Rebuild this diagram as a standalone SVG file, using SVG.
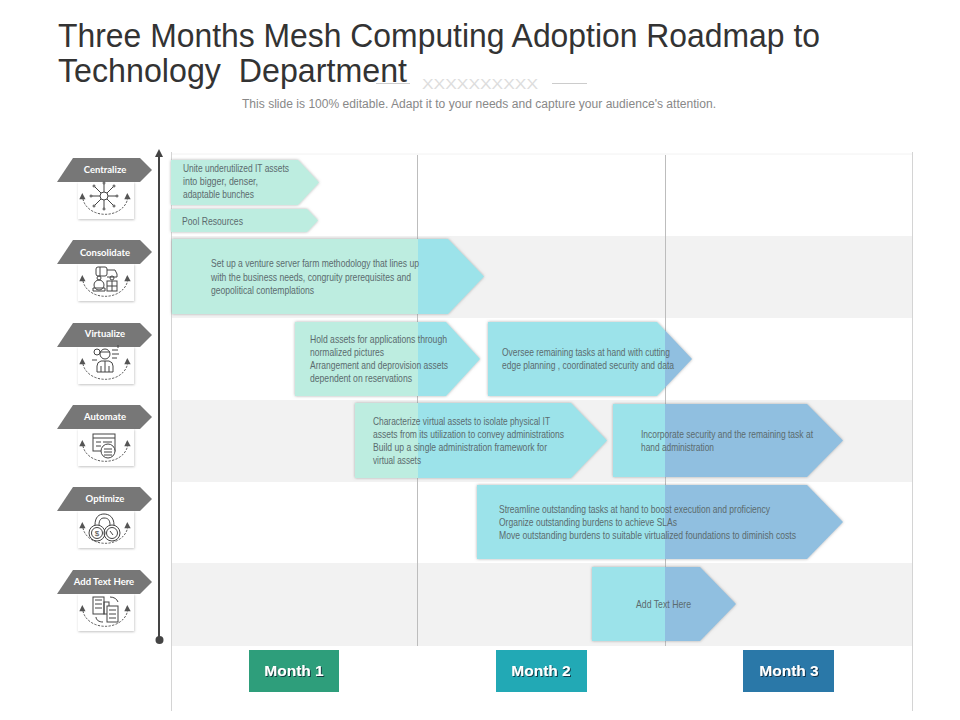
<svg xmlns="http://www.w3.org/2000/svg" width="960" height="720" viewBox="0 0 960 720">
<style>
text{font-family:"Liberation Sans",Arial,sans-serif}
.t{font-size:10.3px;fill:#5b6b6e}
.tag{font-size:9.5px;font-weight:bold;fill:#fff;text-anchor:middle;font-family:Lato,"Liberation Sans",sans-serif}
.m{font-size:15.500px;font-weight:bold;fill:#fff;text-anchor:middle;filter:url(#ts)}
.ic{fill:none;stroke:#444;stroke-width:1}
.arc{fill:none;stroke:#444;stroke-width:.9;stroke-dasharray:2.2 1.4}
.ah{fill:#555}
.tagb{fill:#777}
.card{fill:#fff;filter:url(#cs)}
.bar{fill:url(#g);filter:url(#as)}
.grid{stroke:#bdbdbd;stroke-width:1}
.edge{stroke:#d4d4d4;stroke-width:1}
</style>
<defs>
<linearGradient id="g" gradientUnits="userSpaceOnUse" x1="0" y1="0" x2="960" y2="0">
<stop offset="0.4349" stop-color="#BDEDE0"/><stop offset="0.4349" stop-color="#9CE3EA"/>
<stop offset="0.6927" stop-color="#9CE3EA"/><stop offset="0.6927" stop-color="#90BFE0"/>
</linearGradient>
<filter id="as" x="-5%" y="-10%" width="110%" height="120%"><feDropShadow dx="0" dy="0" stdDeviation="1.4" flood-color="#777" flood-opacity=".6"/></filter>
<filter id="cs" x="-10%" y="-10%" width="120%" height="120%"><feDropShadow dx="0.5" dy="1" stdDeviation="1" flood-color="#888" flood-opacity=".5"/></filter>
<filter id="ts" x="-10%" y="-20%" width="120%" height="150%"><feDropShadow dx="1" dy="1" stdDeviation=".4" flood-color="#123" flood-opacity=".8"/></filter>
<g id="frame">
<rect class="card" x="78" y="0" width="56" height="37"/>
<path class="arc" d="M83 17 A22.500 18 0 0 0 127.500 17"/>
<polygon class="ah" points="79.300,17.300 85.500,17.300 82.300,11"/>
<polygon class="ah" points="124.300,17.300 130.700,17.300 127.300,11"/>
<polygon class="tagb" points="57,0 73,-24 140,-24 152,-12 140,0"/>
</g>
</defs>
<rect width="960" height="720" fill="#fff"/>
<g id="title">
<text x="58" y="47" font-size="32.500" fill="#333" textLength="762" lengthAdjust="spacingAndGlyphs">Three Months Mesh Computing Adoption Roadmap to</text>
<text x="58" y="82" font-size="32.500" fill="#333" xml:space="preserve" textLength="349" lengthAdjust="spacingAndGlyphs">Technology  Department</text>
<text x="422" y="88.500" font-size="14" fill="#ddd" textLength="116" lengthAdjust="spacingAndGlyphs">XXXXXXXXXX</text>
<line x1="376" y1="83.500" x2="410" y2="83.500" stroke="#ccc"/>
<line x1="552" y1="83.500" x2="587" y2="83.500" stroke="#ccc"/>
<text x="242" y="108" font-size="12" fill="#888" textLength="474" lengthAdjust="spacingAndGlyphs">This slide is 100% editable. Adapt it to your needs and capture your audience's attention.</text>
</g>
<g id="bands" fill="#F2F2F2">
<rect x="171" y="236" width="742" height="82"/>
<rect x="171" y="400" width="742" height="82"/>
<rect x="171" y="563" width="742" height="83"/>
<line x1="171" y1="154" x2="913" y2="154" stroke="#f2f2f2"/>
</g>
<g id="grid">
<line class="edge" x1="171.500" y1="152" x2="171.500" y2="711"/>
<line class="grid" x1="417.500" y1="155" x2="417.500" y2="646"/>
<line class="grid" x1="665.500" y1="155" x2="665.500" y2="646"/>
<line class="edge" x1="912.500" y1="152" x2="912.500" y2="711"/>
</g>
<g id="connectors">
<line x1="159" y1="155" x2="159" y2="640" stroke="#444" stroke-width="2"/>
<polygon points="159,149 155,157 163,157" fill="#444"/>
<circle cx="159.500" cy="640" r="4" fill="#444"/>
</g>
<g id="bar1"><polygon class="bar" points="171,160 298,160 319,182.500 298,205 171,205"/>
<text class="t" x="183" y="172" textLength="106" lengthAdjust="spacingAndGlyphs">Unite underutilized IT assets</text>
<text class="t" x="183" y="185" textLength="75" lengthAdjust="spacingAndGlyphs">into bigger, denser,</text>
<text class="t" x="183" y="198" textLength="71" lengthAdjust="spacingAndGlyphs">adaptable bunches</text></g>
<g id="bar2"><polygon class="bar" points="171,209 307,209 318,220.500 307,232 171,232"/>
<text class="t" x="182" y="225" textLength="61" lengthAdjust="spacingAndGlyphs">Pool Resources</text></g>
<g id="bar3"><polygon class="bar" points="172,239 448,239 484,276.500 448,314 172,314"/>
<text class="t" x="211" y="267" textLength="208" lengthAdjust="spacingAndGlyphs">Set up a venture server farm methodology that lines up</text>
<text class="t" x="211" y="281" textLength="200" lengthAdjust="spacingAndGlyphs">with the business needs, congruity prerequisites and</text>
<text class="t" x="211" y="294" textLength="103" lengthAdjust="spacingAndGlyphs">geopolitical contemplations</text></g>
<g id="bar4"><polygon class="bar" points="295,322 446,322 480,359 446,396 295,396"/>
<text class="t" x="310" y="343" textLength="137" lengthAdjust="spacingAndGlyphs">Hold assets for applications through</text>
<text class="t" x="310" y="356" textLength="74" lengthAdjust="spacingAndGlyphs">normalized pictures</text>
<text class="t" x="310" y="369" textLength="138" lengthAdjust="spacingAndGlyphs">Arrangement and deprovision assets</text>
<text class="t" x="310" y="382" textLength="102" lengthAdjust="spacingAndGlyphs">dependent on reservations</text></g>
<g id="bar5"><polygon class="bar" points="488,322 657,322 692,359 657,396 488,396"/>
<text class="t" x="502" y="356" textLength="168" lengthAdjust="spacingAndGlyphs">Oversee remaining tasks at hand with cutting</text>
<text class="t" x="502" y="369" textLength="172" lengthAdjust="spacingAndGlyphs">edge planning , coordinated security and data</text></g>
<g id="bar6"><polygon class="bar" points="355,403 571,403 607,440.500 571,478 355,478"/>
<text class="t" x="373" y="425" textLength="177" lengthAdjust="spacingAndGlyphs">Characterize virtual assets to isolate physical IT</text>
<text class="t" x="373" y="438" textLength="191" lengthAdjust="spacingAndGlyphs">assets from its utilization to convey administrations</text>
<text class="t" x="373" y="451" textLength="174" lengthAdjust="spacingAndGlyphs">Build up a single administration framework for</text>
<text class="t" x="373" y="464" textLength="48" lengthAdjust="spacingAndGlyphs">virtual assets</text></g>
<g id="bar7"><polygon class="bar" points="613,404 807,404 843,440.500 807,477 613,477"/>
<text class="t" x="641" y="438" textLength="172" lengthAdjust="spacingAndGlyphs">Incorporate security and the remaining task at</text>
<text class="t" x="641" y="451" textLength="73" lengthAdjust="spacingAndGlyphs">hand administration</text></g>
<g id="bar8"><polygon class="bar" points="477,485 807,485 843,522 807,559 477,559"/>
<text class="t" x="499" y="513" textLength="271" lengthAdjust="spacingAndGlyphs">Streamline outstanding tasks at hand to boost execution and proficiency</text>
<text class="t" x="499" y="526" textLength="178" lengthAdjust="spacingAndGlyphs">Organize outstanding burdens to achieve SLAs</text>
<text class="t" x="499" y="539" textLength="297" lengthAdjust="spacingAndGlyphs">Move outstanding burdens to suitable virtualized foundations to diminish costs</text></g>
<g id="bar9"><polygon class="bar" points="592,567 700,567 736,604 700,641 592,641"/>
<text class="t" x="636" y="608" textLength="55" lengthAdjust="spacingAndGlyphs">Add Text Here</text></g>
<g id="centralize"><use href="#frame" y="182"/>
<text class="tag" x="105" y="173">Centralize</text>
<g class="ic"><circle cx="104" cy="196" r="4"/><path d="M104 192V184M104 200V208M100 196H92M108 196H116M101 193L95 187M107 199L113 205M107 193L113 187M101 199L95 205"/><circle cx="104" cy="183" r="1"/><circle cx="104" cy="209" r="1"/><circle cx="91" cy="196" r="1"/><circle cx="117" cy="196" r="1"/><circle cx="94" cy="186" r="1"/><circle cx="114" cy="186" r="1"/><circle cx="94" cy="206" r="1"/><circle cx="114" cy="206" r="1"/></g></g>
<g id="consolidate"><use href="#frame" y="264"/>
<text class="tag" x="105" y="256">Consolidate</text>
<g class="ic"><rect x="96" y="267" width="11" height="9" rx="2"/><path d="M100 267V276M107 270H115L117 274V277H107"/><circle cx="99" cy="278" r="2"/><circle cx="112" cy="278" r="2"/><circle cx="99" cy="285" r="5"/><path d="M93 291H105V288H93Z"/><rect x="107" y="281" width="10" height="10"/><path d="M112 281V291M107 286H117"/></g></g>
<g id="virtualize"><use href="#frame" y="347"/>
<text class="tag" x="105" y="337">Virtualize</text>
<g class="ic"><circle cx="105" cy="354" r="5"/><path d="M100 352H110M97 372V366Q97 362 101 361H109Q113 362 113 366V372H97M105 361V372M101 366V372M109 366V372"/><circle cx="97" cy="352" r="3"/><path d="M112 350H118M112 354H119M112 358H117M92 360H97M118 348V345"/></g></g>
<g id="automate"><use href="#frame" y="429"/>
<text class="tag" x="105" y="420">Automate</text>
<g class="ic"><rect x="93" y="434" width="22" height="17"/><path d="M93 438H115M96 442H101M103 442H112M96 446H101"/><circle cx="108" cy="451" r="7" fill="#fff"/><path d="M104 449H112M104 452H112M104 455H112"/></g></g>
<g id="optimize"><use href="#frame" y="511"/>
<text class="tag" x="105" y="502">Optimize</text>
<g class="ic"><circle cx="97" cy="533" r="8"/><circle cx="112" cy="533" r="8"/><circle cx="97" cy="533" r="5.500"/><circle cx="112" cy="533" r="5.500"/><path d="M95 525C95 517 99 514 104 514C109 514 114 517 114 525M99 525C99 520 101 518 104 518C108 518 110 520 110 525M110 531L113 535"/></g><text x="97" y="536" font-size="8" fill="#444" text-anchor="middle">$</text></g>
<g id="addtext"><use href="#frame" y="594"/>
<text class="tag" x="104" y="585">Add Text Here</text>
<g class="ic"><rect x="93" y="597" width="11" height="17"/><rect x="104" y="602" width="5" height="12"/><rect x="107" y="606" width="11" height="16" fill="#fff"/><path d="M95 600H102M95 604H102M95 608H102M109 610H116M109 614H116M109 618H116M110 597C114 597 117 599 118 602M96 617C96 620 99 622 103 622"/></g></g>
<g id="month1"><rect x="249" y="650" width="90" height="42" fill="#2E9E7B"/><text class="m" x="294" y="676">Month 1</text></g>
<g id="month2"><rect x="496" y="650" width="91" height="42" fill="#22A9B5"/><text class="m" x="541" y="676">Month 2</text></g>
<g id="month3"><rect x="743" y="650" width="91" height="42" fill="#2A78A8"/><text class="m" x="789" y="676">Month 3</text></g>
</svg>
